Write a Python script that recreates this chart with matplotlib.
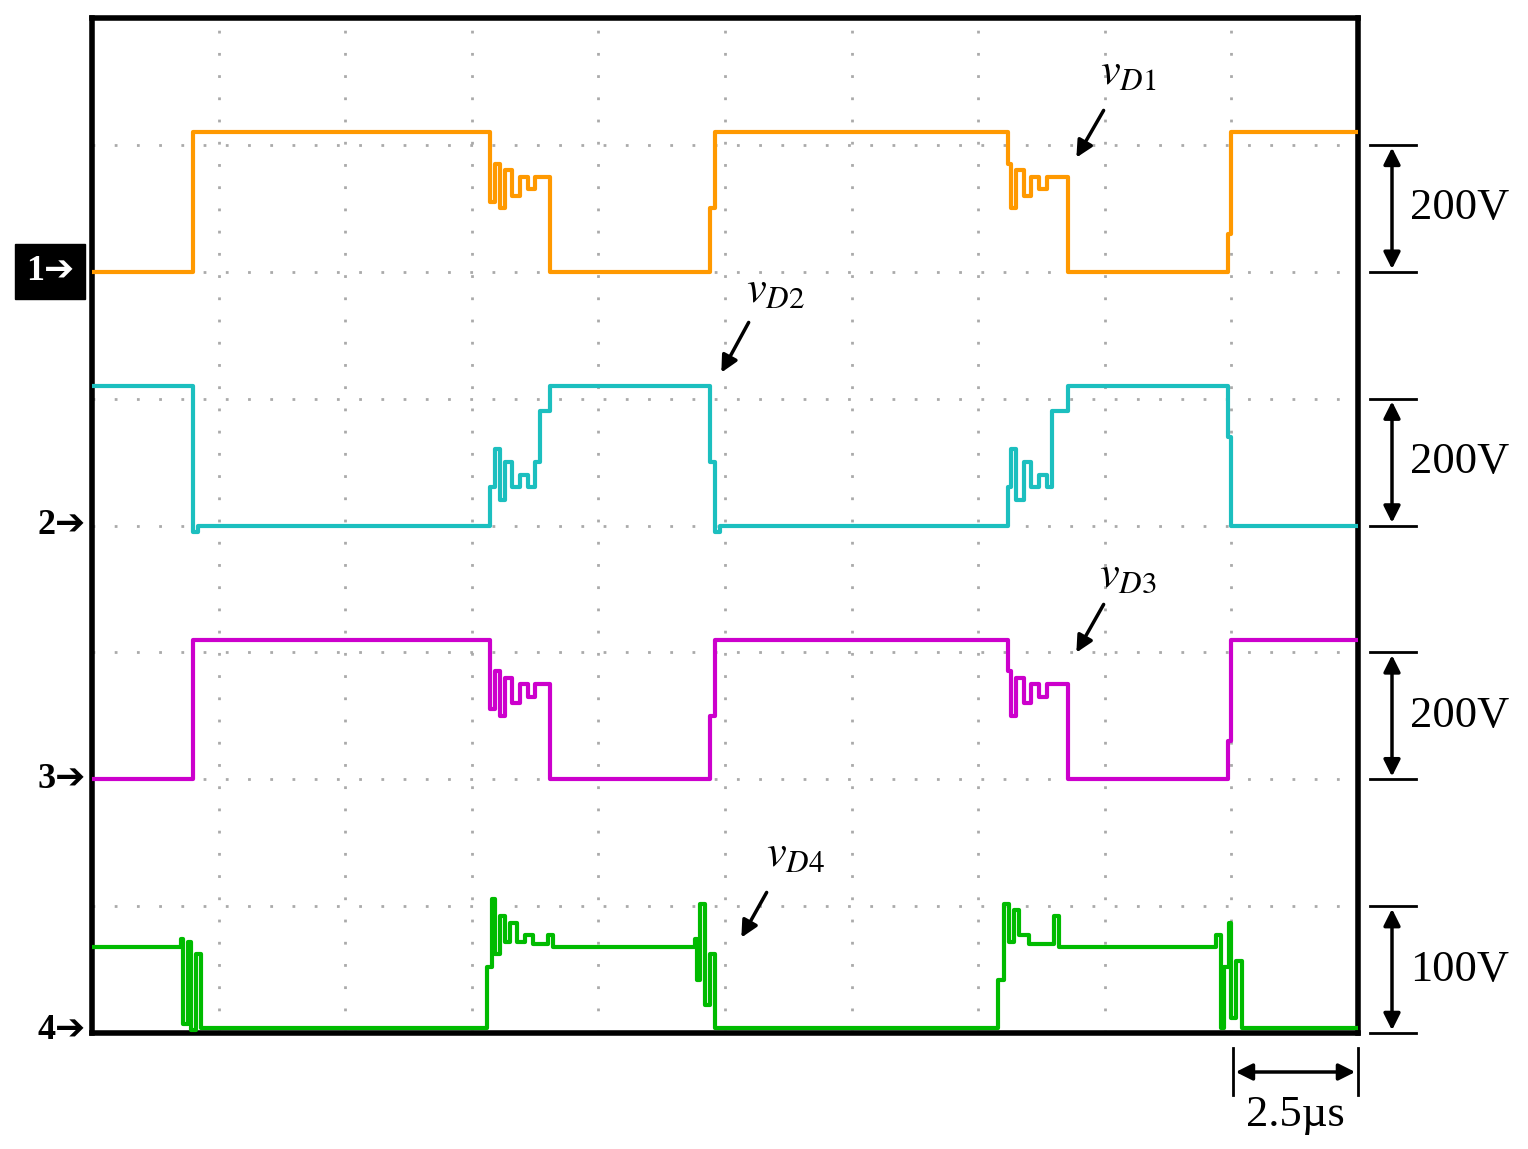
import matplotlib.pyplot as plt
import numpy as np

plt.rcParams['mathtext.fontset'] = 'stix'
plt.rcParams['font.family'] = ['Liberation Serif', 'DejaVu Serif']

# time in us, level in divisions above the channel's ground marker
t1 = [0, 2.0, 7.86, 7.95, 8.05, 8.15, 8.3, 8.45, 8.6, 8.75, 9.04, 12.2, 12.3,
      18.09, 18.15, 18.25, 18.4, 18.55, 18.7, 18.85, 19.27, 22.43, 22.5, 25]
v1 = [0, 1.1, 0.55, 0.85, 0.5, 0.8, 0.6, 0.75, 0.65, 0.75, 0.0, 0.5, 1.1,
      0.85, 0.5, 0.8, 0.6, 0.75, 0.65, 0.75, 0.0, 0.3, 1.1, 1.1]
t2 = [0, 2.0, 2.1, 7.86, 7.95, 8.05, 8.15, 8.3, 8.45, 8.6, 8.75, 8.85, 9.04,
      12.2, 12.3, 12.4, 18.09, 18.15, 18.25, 18.4, 18.55, 18.7, 18.85, 18.95,
      19.27, 22.43, 22.5, 25]
v2 = [1.1, -0.05, 0, 0.3, 0.6, 0.2, 0.5, 0.3, 0.4, 0.3, 0.5, 0.9, 1.1,
      0.5, -0.05, 0, 0.3, 0.6, 0.2, 0.5, 0.3, 0.4, 0.3, 0.9,
      1.1, 0.7, 0, 0]
t4 = [0, 1.75, 1.8, 1.9, 1.95, 2.05, 2.15, 7.8, 7.9, 7.95, 8.05, 8.15, 8.25,
      8.4, 8.55, 8.7, 9.0, 9.1, 11.9, 11.95, 12.0, 12.1, 12.2, 12.3,
      17.9, 18.0, 18.1, 18.2, 18.3, 18.5, 19.0, 19.1, 22.2, 22.3, 22.35,
      22.45, 22.5, 22.6, 22.7, 25]
v4 = [0.66, 0.72, 0.05, 0.7, 0.0, 0.6, 0.02, 0.5, 1.04, 0.6, 0.9, 0.7, 0.85,
      0.7, 0.75, 0.68, 0.75, 0.66, 0.72, 0.4, 1.0, 0.2, 0.6, 0.02,
      0.4, 1.0, 0.7, 0.95, 0.75, 0.68, 0.9, 0.66, 0.75, 0.02, 0.5,
      0.85, 0.1, 0.55, 0.02, 0.02]

channels = [("1", t1, v1, 6, "#FF9900"), ("2", t2, v2, 4, "#1CBFBF"),
            ("3", t1, v1, 2, "#CC00CC"), ("4", t4, v4, 0.02, "#00BB00")]
scales = ["200V", "200V", "200V", "100V"]
labels = [("1", 20.46, 7.57), ("2", 13.5, 5.85), ("3", 20.46, 3.6), ("4", 13.9, 1.4)]

W, H = 1528, 1149
fig = plt.figure(figsize=(W / 100, H / 100), dpi=100)
ax = fig.add_axes([92 / W, 1 - 1033 / H, 1266 / W, 1015 / H])
ax.set_xlim(0, 25)
ax.set_ylim(0, 8)
for x in np.arange(2.5, 25, 2.5):
    ax.axvline(x, color="#aaaaaa", lw=2, ls=(0, (1, 7)))
for y in range(1, 8):
    ax.axhline(y, color="#aaaaaa", lw=2, ls=(0, (1, 7)))
ax.set_xticks([])
ax.set_yticks([])
for s in ax.spines.values():
    s.set_linewidth(4)

for name, t, v, base, c in channels:
    ax.plot(t, np.array(v) + base, drawstyle="steps-post", color=c, lw=3, zorder=3)

def px(x, y):
    return (x - 92) / 1266 * 25, (1033 - y) / 1015 * 8

# ground markers
for name, t, v, base, c in channels:
    yy = 1 - (1033 - base / 8 * 1015) / H
    if name == "1":
        fig.text(50 / W, yy, "1➔", color="white", fontsize=26, fontweight="bold",
                 ha="center", va="center", family=["Liberation Serif", "DejaVu Sans"],
                 bbox=dict(boxstyle="square,pad=0.3", fc="black", ec="black"))
    else:
        fig.text(62 / W, yy, name + "➔", color="black", fontsize=26, fontweight="bold",
                 ha="center", va="center", family=["Liberation Serif", "DejaVu Sans"])

# scale bars
for (name, t, v, base, c), s in zip(channels, scales):
    b = round(base)
    xa, _ = px(1392, 0)
    xl0, _ = px(1370, 0)
    xl1, _ = px(1416, 0)
    ax.annotate("", xy=(xa, b + 1), xytext=(xa, b), annotation_clip=False,
                arrowprops=dict(arrowstyle="<|-|>", color="black", lw=2.5, mutation_scale=25))
    for yy in (b, b + 1):
        ax.plot([xl0, xl1], [yy, yy], color="black", lw=2, clip_on=False)
    xt, _ = px(1410, 0)
    ax.text(xt, b + 0.5, s, fontsize=32, ha="left", va="center", clip_on=False)

# time scale
_, yb = px(0, 1072)
_, yt0 = px(0, 1048)
_, yt1 = px(0, 1095)
ax.annotate("", xy=(22.53, yb), xytext=(25, yb), annotation_clip=False,
            arrowprops=dict(arrowstyle="<|-|>", color="black", lw=2.5, mutation_scale=25))
for xx in (22.53, 25):
    ax.plot([xx, xx], [yt0, yt1], color="black", lw=2, clip_on=False)
_, ytx = px(0, 1115)
ax.text(23.77, ytx, "2.5µs", fontsize=32, ha="center", va="center", clip_on=False)

# signal labels with arrows
arrows = [((1105, 108), (1075, 160)), ((750, 320), (720, 375)),
          ((1105, 602), (1075, 655)), ((768, 890), (740, 940))]
for (n, lx, ly), (p0, p1) in zip(labels, arrows):
    ax.text(lx, ly, r"$v_{D%s}$" % n, fontsize=32, ha="center", va="center", zorder=5)
    ax.annotate("", xy=px(*p1), xytext=px(*p0),
                arrowprops=dict(arrowstyle="-|>", color="black", lw=2.5, mutation_scale=25))

fig.savefig("out.png", dpi=100)
